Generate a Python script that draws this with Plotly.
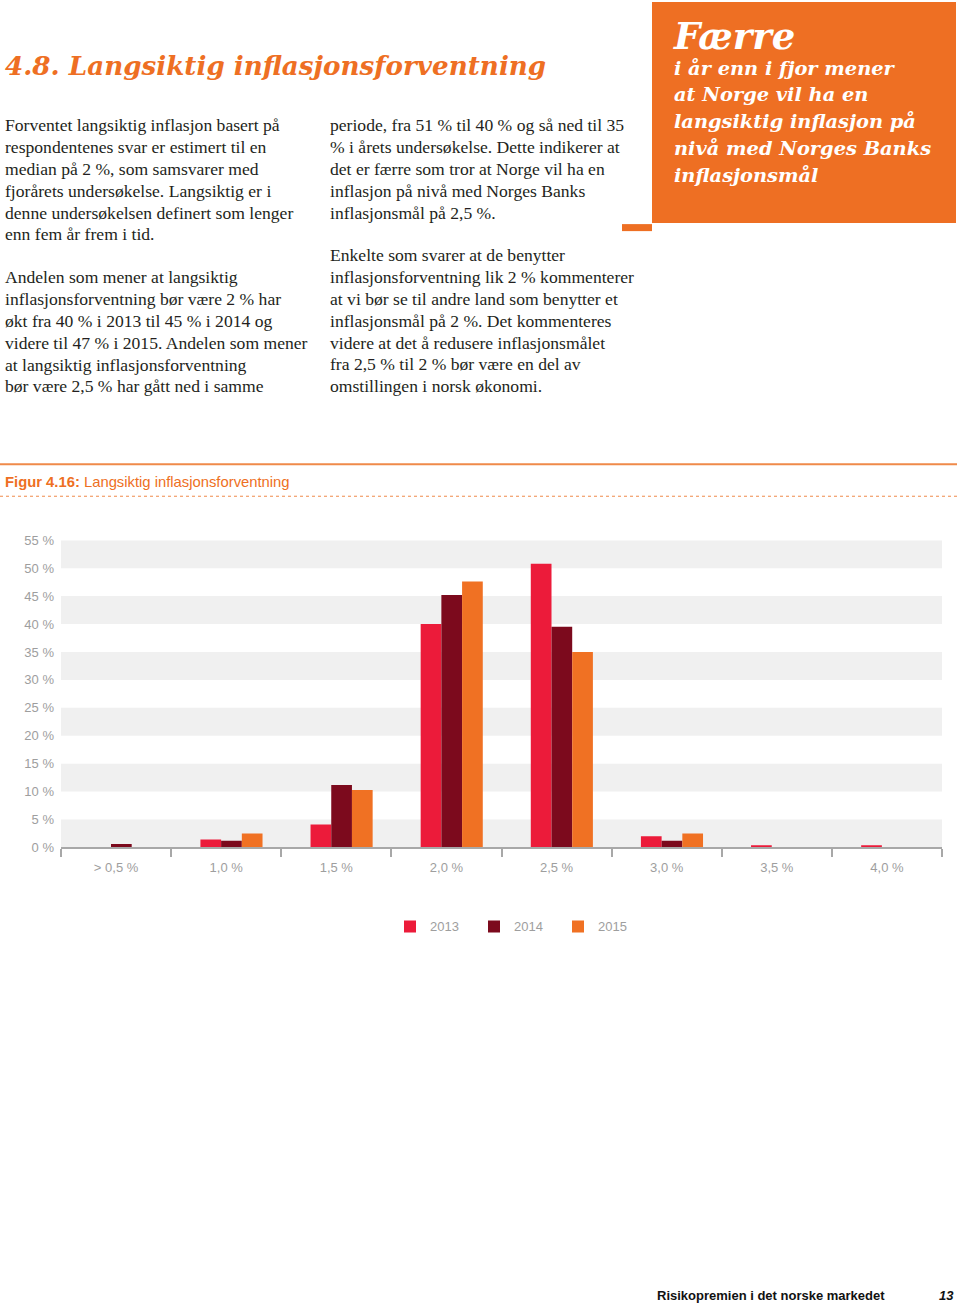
import plotly.graph_objects as go

W, H = 960, 1304

# ---------------- data ----------------
categories = ["> 0,5 %", "1,0 %", "1,5 %", "2,0 %", "2,5 %", "3,0 %", "3,5 %", "4,0 %"]
years = ["2013", "2014", "2015"]
values_2013 = [0.0, 1.4, 4.1, 40.0, 50.8, 2.0, 0.4, 0.4]
values_2014 = [0.6, 1.2, 11.2, 45.2, 39.5, 1.2, 0.0, 0.0]
values_2015 = [0.0, 2.5, 10.3, 47.6, 35.0, 2.5, 0.0, 0.0]
y_tick_values = [0, 5, 10, 15, 20, 25, 30, 35, 40, 45, 50, 55]
y_tick_labels = ["0 %", "5 %", "10 %", "15 %", "20 %", "25 %", "30 %", "35 %", "40 %", "45 %", "50 %", "55 %"]
band_starts = [0, 10, 20, 30, 40, 50]
band_ends = [5, 15, 25, 35, 45, 55]

page_title = "4.8. Langsiktig inflasjonsforventning"
col1_p1 = ["Forventet langsiktig inflasjon basert på",
           "respondentenes svar er estimert til en",
           "median på 2 %, som samsvarer med",
           "fjorårets undersøkelse. Langsiktig er i",
           "denne undersøkelsen definert som lenger",
           "enn fem år frem i tid."]
col1_p2 = ["Andelen som mener at langsiktig",
           "inflasjonsforventning bør være 2 % har",
           "økt fra 40 % i 2013 til 45 % i 2014 og",
           "videre til 47 % i 2015. Andelen som mener",
           "at langsiktig inflasjonsforventning",
           "bør være 2,5 % har gått ned i samme"]
col2_p1 = ["periode, fra 51 % til 40 % og så ned til 35",
           "% i årets undersøkelse. Dette indikerer at",
           "det er færre som tror at Norge vil ha en",
           "inflasjon på nivå med Norges Banks",
           "inflasjonsmål på 2,5 %."]
col2_p2 = ["Enkelte som svarer at de benytter",
           "inflasjonsforventning lik 2 % kommenterer",
           "at vi bør se til andre land som benytter et",
           "inflasjonsmål på 2 %. Det kommenteres",
           "videre at det å redusere inflasjonsmålet",
           "fra 2,5 % til 2 % bør være en del av",
           "omstillingen i norsk økonomi."]
box_head = "Færre"
box_lines = ["i år enn i fjor mener",
             "at Norge vil ha en",
             "langsiktig inflasjon på",
             "nivå med Norges Banks",
             "inflasjonsmål"]
fig_label_bold = "Figur 4.16:"
fig_label_rest = " Langsiktig inflasjonsforventning"
footer_text = "Risikopremien i det norske markedet"
page_number = "13"

# ---------------- styles ----------------
ORANGE = "#EE6F23"
C2013 = "#EC1B3A"
C2014 = "#7C0A1D"
C2015 = "#F07123"
GREY_TXT = "#9E9E9E"
BAND = "#F0F0F0"
BODY = "#231F20"

# vertical calibration of the rendered page (observed: shown_y = 0.988 * y + 7)
VS, VO = 0.988, 7.0


def px(x):
    return x / W


def py(y):
    return 1 - ((y - VO) / VS) / H


fig = go.Figure()

series = [(years[0], values_2013, C2013, -0.234),
          (years[1], values_2014, C2014, -0.046),
          (years[2], values_2015, C2015, 0.142)]
for name, vals, col, off in series:
    fig.add_trace(go.Bar(
        x=categories, y=vals, name=name,
        marker=dict(color=col, line=dict(width=0)),
        offset=off, width=0.188,
    ))

shapes = []
for b0, b1 in zip(band_starts, band_ends):
    shapes.append(dict(type="rect", xref="x domain", yref="y", x0=0, x1=1,
                       y0=b0, y1=b1, fillcolor=BAND, line=dict(width=0), layer="below"))
shapes.append(dict(type="rect", xref="paper", yref="paper", x0=px(652), x1=px(956),
                   y0=py(223), y1=py(2), fillcolor=ORANGE, line=dict(width=0)))
shapes.append(dict(type="rect", xref="paper", yref="paper", x0=px(622), x1=px(652),
                   y0=py(231), y1=py(224), fillcolor=ORANGE, line=dict(width=0)))
shapes.append(dict(type="line", xref="paper", yref="paper", x0=px(0), x1=px(957),
                   y0=py(464), y1=py(464), line=dict(color="#EF8A4A", width=2)))
shapes.append(dict(type="line", xref="paper", yref="paper", x0=px(0), x1=px(957),
                   y0=py(496), y1=py(496), line=dict(color="#EF8A4A", width=1, dash="dot")))

ann = []
ann.append(dict(text=page_title, x=px(3), y=py(65), xref="paper", yref="paper",
                xanchor="left", yanchor="middle", showarrow=False,
                font=dict(family="DejaVu Serif", size=26.2, color=ORANGE,
                          weight="bold", style="italic")))

LH = 21.85


def add_lines(lines, x0, y0):
    for i, t in enumerate(lines):
        ann.append(dict(text=t, x=px(x0), y=py(y0 + i * LH), xref="paper", yref="paper",
                        xanchor="left", yanchor="middle", showarrow=False,
                        font=dict(family="Liberation Serif", size=17.6, color=BODY)))


add_lines(col1_p1, 3, 125)
add_lines(col1_p2, 3, 277)
add_lines(col2_p1, 328, 125)
add_lines(col2_p2, 328, 255)

ann.append(dict(text=box_head, x=px(671), y=py(36), xref="paper", yref="paper",
                xanchor="left", yanchor="middle", showarrow=False,
                font=dict(family="DejaVu Serif", size=37, color="white",
                          weight="bold", style="italic")))
for i, t in enumerate(box_lines):
    ann.append(dict(text=t, x=px(672), y=py(68 + i * 26.8), xref="paper", yref="paper",
                    xanchor="left", yanchor="middle", showarrow=False,
                    font=dict(family="DejaVu Serif", size=19.4, color="white",
                              weight="bold", style="italic")))

ann.append(dict(text="<b>" + fig_label_bold + "</b>" + fig_label_rest,
                x=px(3), y=py(482), xref="paper", yref="paper",
                xanchor="left", yanchor="middle", showarrow=False,
                font=dict(family="Liberation Sans Narrow, Liberation Sans", size=14.8, color=ORANGE)))

ann.append(dict(text="<b>" + footer_text + "</b>", x=px(887), y=py(1295), xref="paper", yref="paper",
                xanchor="right", yanchor="middle", showarrow=False,
                font=dict(family="Liberation Sans", size=13, color="#111111")))
ann.append(dict(text="<b><i>" + page_number + "</i></b>", x=px(956), y=py(1295), xref="paper", yref="paper",
                xanchor="right", yanchor="middle", showarrow=False,
                font=dict(family="Liberation Sans", size=13, color="#111111")))

fig.update_layout(
    width=W, height=H,
    margin=dict(l=0, r=0, t=0, b=0),
    paper_bgcolor="white", plot_bgcolor="white",
    barmode="overlay",
    showlegend=True,
    legend=dict(orientation="h", x=px(390), y=py(926), xanchor="left", yanchor="middle",
                font=dict(family="Liberation Sans", size=13, color=GREY_TXT),
                bgcolor="rgba(0,0,0,0)", itemwidth=30, traceorder="normal",
                entrywidth=39, entrywidthmode="pixels"),
    shapes=shapes,
    annotations=ann,
    xaxis=dict(domain=[px(61), px(942)], range=[-0.5, 7.5], type="category",
               tickson="boundaries", ticks="outside", ticklen=8, tickwidth=2,
               tickcolor="#A8A8A8", showline=True, linecolor="#A8A8A8", linewidth=2,
               showgrid=False, zeroline=False, ticklabelstandoff=7,
               tickfont=dict(family="Liberation Sans", size=13, color=GREY_TXT),
               fixedrange=True),
    yaxis=dict(domain=[py(847), py(540)], range=[0, 55], tickvals=y_tick_values,
               ticktext=y_tick_labels, showgrid=False, zeroline=False, showline=False,
               ticks="", ticklabelstandoff=6,
               tickfont=dict(family="Liberation Sans", size=13, color=GREY_TXT),
               fixedrange=True),
    font=dict(family="Liberation Sans"),
)

fig.write_html(
    "out.html",
    config={"displayModeBar": False},
    post_script="document.body.style.margin='0';document.body.style.overflow='hidden';",
)
